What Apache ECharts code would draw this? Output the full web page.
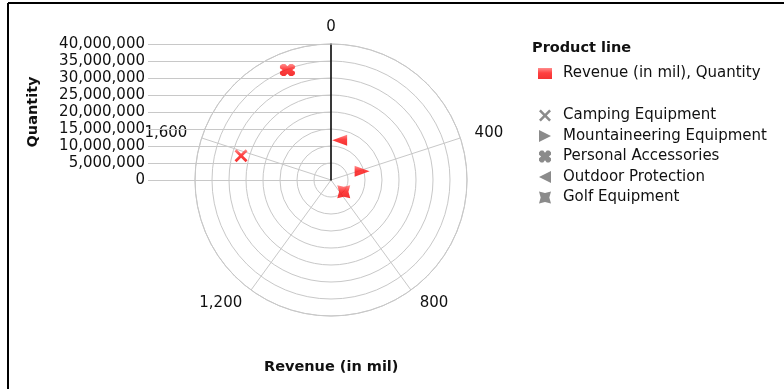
<!DOCTYPE html>
<html>
<head>
<meta charset="utf-8">
<script src="https://cdn.jsdelivr.net/npm/echarts@6/dist/echarts.min.js"></script>
<style>html,body{margin:0;padding:0;background:#fff;}#c{width:784px;height:389px;}</style>
</head>
<body>
<div id="c"></div>
<script>
const products = ['Camping Equipment', 'Mountaineering Equipment', 'Personal Accessories', 'Outdoor Protection', 'Golf Equipment'];
const revenue = [1584, 413, 1880, 68, 737];
const quantity = [27400000, 9500000, 34800000, 12000000, 5100000];
const revenueTicks = [0, 400, 800, 1200, 1600];
const quantityTicks = [0, 5000000, 10000000, 15000000, 20000000, 25000000, 30000000, 35000000, 40000000];

const symbols = [
  'path://M0,1.5 L1.5,0 L5,3.5 L8.5,0 L10,1.5 L6.5,5 L10,8.5 L8.5,10 L5,6.5 L1.5,10 L0,8.5 L3.5,5 Z',
  'path://M0,0 L10,5 L0,10 Z',
  'path://M0,1.5 L1.5,0 L3.5,0 L5,1.8 L6.5,0 L8.5,0 L10,1.5 L10,3.5 L8.2,5 L10,6.5 L10,8.5 L8.5,10 L6.5,10 L5,8.2 L3.5,10 L1.5,10 L0,8.5 L0,6.5 L1.8,5 L0,3.5 Z',
  'path://M10,0 L0,5 L10,10 Z',
  'path://M0,0 L5,1.2 L10,0 L8.6,5 L10,10 L5,8.8 L0,10 L1.4,5 Z'
];
const sizes = [[13,13],[15,11],[15,12],[15,11],[13,13]];
const FONT = 'DejaVu Sans';
const TXT = '#111';
const fmt = v => Number(v).toLocaleString('en-US');

const redGrad = () => new echarts.graphic.LinearGradient(0,0,0,1,[{offset:0,color:'#ff7070'},{offset:0.45,color:'#ff1010'},{offset:1,color:'#f00000'}]);

const series = products.map((p, i) => ({
  name: p,
  type: 'scatter',
  coordinateSystem: 'polar',
  symbol: symbols[i],
  symbolSize: sizes[i],
  itemStyle: { color: redGrad() },
  data: [[quantity[i], revenue[i]]],
  z: 5
}));
series.push({ name: 'Revenue (in mil), Quantity', type: 'scatter', coordinateSystem: 'polar', data: [] });
series.push({ type: 'line', xAxisIndex: 0, yAxisIndex: 0, data: [], silent: true });

const labStyle = { fontFamily: FONT, fontSize: 15, color: TXT };

const chart = echarts.init(document.getElementById('c'), null, { renderer: 'canvas' });
chart.setOption({
  animation: false,
  backgroundColor: '#fff',
  textStyle: { fontFamily: FONT },
  title: [
    { text: 'Product line', left: 532, top: 41, padding: 0, textStyle: { fontFamily: FONT, fontSize: 14.5, fontWeight: 'bold', color: TXT } },
    { text: 'Revenue (in mil)', left: 264, top: 360, padding: 0, textStyle: { fontFamily: FONT, fontSize: 14.5, fontWeight: 'bold', color: TXT } }
  ],
  legend: [
    {
      left: 533, top: 61, orient: 'vertical', selectedMode: false,
      itemWidth: 14, itemHeight: 11,
      textStyle: { fontFamily: FONT, fontSize: 15, color: TXT, padding: [0,0,0,6] },
      data: [{ name: 'Revenue (in mil), Quantity', icon: 'rect', itemStyle: { color: redGrad() } }]
    },
    {
      left: 534, top: 103, orient: 'vertical', selectedMode: false,
      itemWidth: 12, itemHeight: 12, itemGap: 5.5,
      textStyle: { fontFamily: FONT, fontSize: 15, color: TXT, padding: [0,0,0,7] },
      data: products.map((p, i) => ({ name: p, icon: symbols[i], itemStyle: { color: '#6e6e6e' } }))
    }
  ],
  polar: { center: [331, 180], radius: 136 },
  angleAxis: {
    type: 'value', min: 0, max: 2000, interval: 400, startAngle: 90, clockwise: true,
    axisLine: { lineStyle: { color: '#c8c8c8', width: 1 } },
    axisTick: { show: false },
    splitLine: { show: true, lineStyle: { color: '#c8c8c8', width: 1 } },
    axisLabel: {
      margin: 15, fontFamily: FONT, fontSize: 15, color: TXT,
      formatter: v => {
        if (revenueTicks.indexOf(v) < 0) return '';
        return v === 0 ? '{t|' + fmt(v) + '}' : '{m|' + fmt(v) + '}';
      },
      rich: {
        t: Object.assign({ lineHeight: 4 }, labStyle),
        m: Object.assign({ lineHeight: 1 }, labStyle)
      }
    }
  },
  radiusAxis: {
    type: 'value', min: 0, max: 40000000, interval: 5000000,
    axisLine: { show: true, lineStyle: { color: '#000', width: 1.5 } },
    axisTick: { show: false },
    axisLabel: { show: false },
    splitLine: { show: true, lineStyle: { color: '#c8c8c8', width: 1 } }
  },
  grid: { left: 148, top: 44, width: 183, height: 136 },
  xAxis: { type: 'value', min: 0, max: 1, show: false },
  yAxis: {
    type: 'value', min: 0, max: 40000000, interval: 5000000,
    axisLine: { show: false }, axisTick: { show: false },
    axisLabel: { margin: 3, fontFamily: FONT, fontSize: 15, color: TXT, formatter: v => (quantityTicks.indexOf(v) >= 0 ? fmt(v) : '') },
    splitLine: { lineStyle: { color: '#c8c8c8', width: 1 } },
    name: 'Quantity', nameLocation: 'middle', nameGap: 107, nameRotate: 90,
    nameTextStyle: { fontFamily: FONT, fontSize: 14.5, fontWeight: 'bold', color: TXT }
  },
  graphic: [
    { type: 'line', shape: { x1: 8, y1: 3, x2: 784, y2: 3 }, style: { stroke: '#000', lineWidth: 2 } },
    { type: 'line', shape: { x1: 8, y1: 3, x2: 8, y2: 389 }, style: { stroke: '#000', lineWidth: 2 } }
  ],
  series: series
});
</script>
</body>
</html>
